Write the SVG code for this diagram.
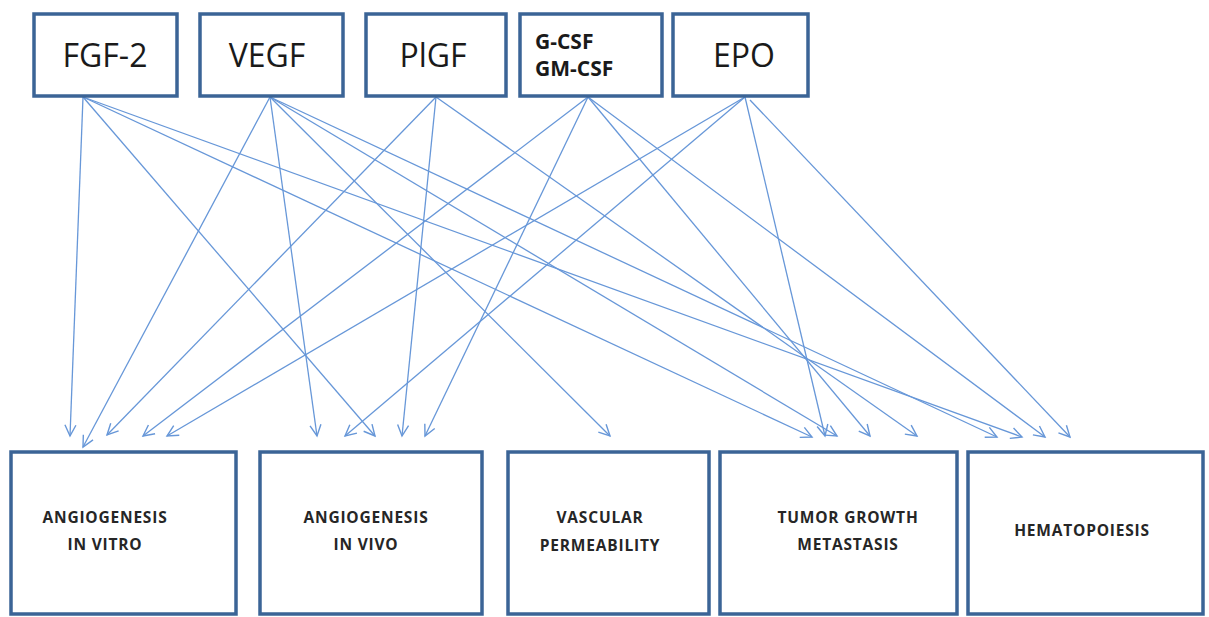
<svg xmlns="http://www.w3.org/2000/svg" width="1209" height="617" viewBox="0 0 1209 617">
<style>
.box{fill:#fff;stroke:#3b6496;stroke-width:3.5}
.big{font-family:"Open Sans","Liberation Sans",sans-serif;font-size:32px;fill:#1a1a1a;text-anchor:middle}
.sm{font-family:"Open Sans","Liberation Sans",sans-serif;font-size:21px;font-weight:700;fill:#1a1a1a}
.lbl{font-family:"Open Sans","Liberation Sans",sans-serif;font-size:15.5px;font-weight:700;letter-spacing:0.8px;fill:#262626;text-anchor:middle}
.c{stroke:#6797d8;stroke-width:1.3;fill:none;marker-end:url(#ah)}
</style>
<defs>
<marker id="ah" markerUnits="userSpaceOnUse" markerWidth="16" markerHeight="16" viewBox="0 0 16 16" refX="14" refY="8" orient="auto">
<path d="M3,2.5 L14,8 L3,13.5" fill="none" stroke="#6797d8" stroke-width="1.4"/>
</marker>
</defs>
<rect width="1209" height="617" fill="#fff"/>
<g id="connectors">
<line class="c" x1="83" y1="97" x2="70" y2="436"/>
<line class="c" x1="83" y1="97" x2="375" y2="436"/>
<line class="c" x1="83" y1="97" x2="812" y2="437"/>
<line class="c" x1="83" y1="97" x2="1022" y2="437"/>
<line class="c" x1="270" y1="97" x2="83" y2="447"/>
<line class="c" x1="270" y1="97" x2="317" y2="436"/>
<line class="c" x1="270" y1="97" x2="610" y2="436"/>
<line class="c" x1="270" y1="97" x2="837" y2="436"/>
<line class="c" x1="270" y1="97" x2="997" y2="437"/>
<line class="c" x1="436" y1="97" x2="107" y2="435"/>
<line class="c" x1="436" y1="97" x2="402" y2="436"/>
<line class="c" x1="436" y1="97" x2="917" y2="436"/>
<line class="c" x1="588" y1="97" x2="143" y2="436"/>
<line class="c" x1="588" y1="97" x2="425" y2="436"/>
<line class="c" x1="588" y1="97" x2="870" y2="436"/>
<line class="c" x1="588" y1="97" x2="1045" y2="437"/>
<line class="c" x1="745" y1="97" x2="167" y2="436"/>
<line class="c" x1="745" y1="97" x2="345" y2="436"/>
<line class="c" x1="745" y1="97" x2="825" y2="436"/>
<line class="c" x1="750" y1="100" x2="1070" y2="437"/>
</g>
<g id="fgf2"><rect class="box" x="34" y="14" width="143" height="82"/><text class="big" x="105" y="67">FGF-2</text></g>
<g id="vegf"><rect class="box" x="200" y="14" width="143" height="82"/><text class="big" x="267" y="67">VEGF</text></g>
<g id="plgf"><rect class="box" x="366" y="14" width="140" height="82"/><text class="big" x="433" y="67">PlGF</text></g>
<g id="gcsf"><rect class="box" x="520" y="14" width="142" height="82"/><text class="sm" x="535" y="49">G-CSF</text><text class="sm" x="535" y="76">GM-CSF</text></g>
<g id="epo"><rect class="box" x="673" y="14" width="135" height="82"/><text class="big" x="744" y="67">EPO</text></g>
<g id="invitro"><rect class="box" x="11" y="452" width="225" height="162"/><text class="lbl" x="105" y="523">ANGIOGENESIS</text><text class="lbl" x="105" y="550">IN VITRO</text></g>
<g id="invivo"><rect class="box" x="260" y="452" width="222" height="162"/><text class="lbl" x="366" y="523">ANGIOGENESIS</text><text class="lbl" x="366" y="550">IN VIVO</text></g>
<g id="vascular"><rect class="box" x="508" y="452" width="201" height="162"/><text class="lbl" x="600" y="523">VASCULAR</text><text class="lbl" x="600" y="551">PERMEABILITY</text></g>
<g id="tumor"><rect class="box" x="720" y="452" width="237" height="162"/><text class="lbl" x="848" y="523">TUMOR GROWTH</text><text class="lbl" x="848" y="550">METASTASIS</text></g>
<g id="hema"><rect class="box" x="968" y="452" width="235" height="162"/><text class="lbl" x="1082" y="536">HEMATOPOIESIS</text></g>
</svg>
